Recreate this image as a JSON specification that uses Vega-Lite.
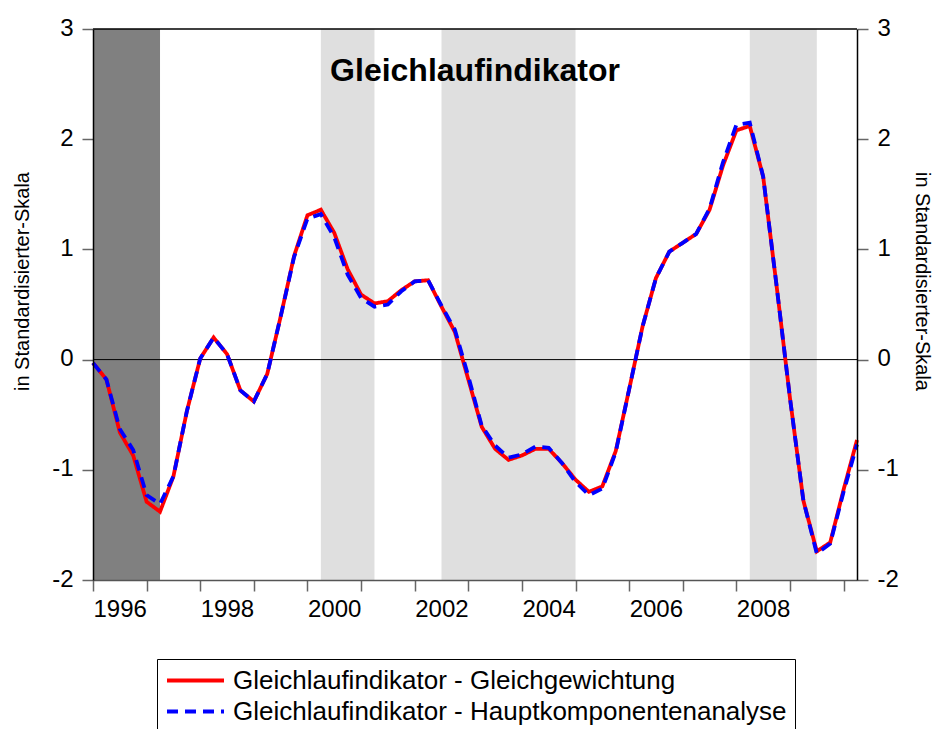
{
  "$schema": "https://vega.github.io/schema/vega-lite/v6.json",
  "width": 764,
  "height": 551,
  "autosize": {"type": "none"},
  "padding": {"left": 93, "top": 29, "right": 77, "bottom": 149},
  "background": "white",
  "config": {"view": {"stroke": null}, "font": "Liberation Sans"},
  "title": {
    "text": "Gleichlaufindikator",
    "font": "Liberation Sans",
    "fontSize": 32,
    "fontWeight": "bold",
    "color": "black",
    "anchor": "middle",
    "frame": "group",
    "baseline": "alphabetic",
    "offset": -97
  },
  "layer": [
    {
      "data": {"values": [{"start": 1996, "end": 1997.25}]},
      "mark": {"type": "rect", "color": "#808080"},
      "encoding": {
        "x": {
          "field": "start", "type": "quantitative",
          "scale": {"domain": [1996, 2010.25], "nice": false, "zero": false},
          "axis": {
            "title": null, "grid": false, "zindex": 1,
            "values": [1996,1997,1998,1999,2000,2001,2002,2003,2004,2005,2006,2007,2008,2009,2010],
            "labelExpr": "(datum.value % 2 === 0 && datum.value < 2010) ? ('' + datum.value) : ''",
            "labelAlign": "left", "labelDx": -6, "labelFlush": false, "labelOverlap": false,
            "labelFont": "Liberation Sans", "labelFontSize": 24, "labelColor": "black",
            "labelPadding": 6, "tickSize": 11, "tickColor": "#666666", "tickWidth": 1.5,
            "domainColor": "#555555", "domainWidth": 1.5
          }
        },
        "x2": {"field": "end"}
      }
    },
    {
      "data": {"values": [
        {"start": 2000.25, "end": 2001.25},
        {"start": 2002.5, "end": 2005.0},
        {"start": 2008.25, "end": 2009.5}
      ]},
      "mark": {"type": "rect", "color": "#dfdfdf"},
      "encoding": {
        "x": {"field": "start", "type": "quantitative", "title": null},
        "x2": {"field": "end"}
      }
    },
    {
      "data": {"values": [{"level": 0}]},
      "mark": {"type": "rule", "color": "black", "strokeWidth": 1},
      "encoding": {"y": {"field": "level", "type": "quantitative", "axis": null}}
    },
    {
      "data": {"values": [
        {"t":1996.00,"v":-0.03,"s":"Gleichlaufindikator - Gleichgewichtung"},
        {"t":1996.25,"v":-0.18,"s":"Gleichlaufindikator - Gleichgewichtung"},
        {"t":1996.50,"v":-0.66,"s":"Gleichlaufindikator - Gleichgewichtung"},
        {"t":1996.75,"v":-0.87,"s":"Gleichlaufindikator - Gleichgewichtung"},
        {"t":1997.00,"v":-1.29,"s":"Gleichlaufindikator - Gleichgewichtung"},
        {"t":1997.25,"v":-1.38,"s":"Gleichlaufindikator - Gleichgewichtung"},
        {"t":1997.50,"v":-1.06,"s":"Gleichlaufindikator - Gleichgewichtung"},
        {"t":1997.75,"v":-0.47,"s":"Gleichlaufindikator - Gleichgewichtung"},
        {"t":1998.00,"v":0.01,"s":"Gleichlaufindikator - Gleichgewichtung"},
        {"t":1998.25,"v":0.20,"s":"Gleichlaufindikator - Gleichgewichtung"},
        {"t":1998.50,"v":0.05,"s":"Gleichlaufindikator - Gleichgewichtung"},
        {"t":1998.75,"v":-0.28,"s":"Gleichlaufindikator - Gleichgewichtung"},
        {"t":1999.00,"v":-0.38,"s":"Gleichlaufindikator - Gleichgewichtung"},
        {"t":1999.25,"v":-0.13,"s":"Gleichlaufindikator - Gleichgewichtung"},
        {"t":1999.50,"v":0.39,"s":"Gleichlaufindikator - Gleichgewichtung"},
        {"t":1999.75,"v":0.94,"s":"Gleichlaufindikator - Gleichgewichtung"},
        {"t":2000.00,"v":1.31,"s":"Gleichlaufindikator - Gleichgewichtung"},
        {"t":2000.25,"v":1.36,"s":"Gleichlaufindikator - Gleichgewichtung"},
        {"t":2000.50,"v":1.15,"s":"Gleichlaufindikator - Gleichgewichtung"},
        {"t":2000.75,"v":0.82,"s":"Gleichlaufindikator - Gleichgewichtung"},
        {"t":2001.00,"v":0.59,"s":"Gleichlaufindikator - Gleichgewichtung"},
        {"t":2001.25,"v":0.51,"s":"Gleichlaufindikator - Gleichgewichtung"},
        {"t":2001.50,"v":0.53,"s":"Gleichlaufindikator - Gleichgewichtung"},
        {"t":2001.75,"v":0.63,"s":"Gleichlaufindikator - Gleichgewichtung"},
        {"t":2002.00,"v":0.71,"s":"Gleichlaufindikator - Gleichgewichtung"},
        {"t":2002.25,"v":0.72,"s":"Gleichlaufindikator - Gleichgewichtung"},
        {"t":2002.50,"v":0.48,"s":"Gleichlaufindikator - Gleichgewichtung"},
        {"t":2002.75,"v":0.25,"s":"Gleichlaufindikator - Gleichgewichtung"},
        {"t":2003.00,"v":-0.18,"s":"Gleichlaufindikator - Gleichgewichtung"},
        {"t":2003.25,"v":-0.61,"s":"Gleichlaufindikator - Gleichgewichtung"},
        {"t":2003.50,"v":-0.81,"s":"Gleichlaufindikator - Gleichgewichtung"},
        {"t":2003.75,"v":-0.91,"s":"Gleichlaufindikator - Gleichgewichtung"},
        {"t":2004.00,"v":-0.87,"s":"Gleichlaufindikator - Gleichgewichtung"},
        {"t":2004.25,"v":-0.81,"s":"Gleichlaufindikator - Gleichgewichtung"},
        {"t":2004.50,"v":-0.81,"s":"Gleichlaufindikator - Gleichgewichtung"},
        {"t":2004.75,"v":-0.94,"s":"Gleichlaufindikator - Gleichgewichtung"},
        {"t":2005.00,"v":-1.09,"s":"Gleichlaufindikator - Gleichgewichtung"},
        {"t":2005.25,"v":-1.20,"s":"Gleichlaufindikator - Gleichgewichtung"},
        {"t":2005.50,"v":-1.15,"s":"Gleichlaufindikator - Gleichgewichtung"},
        {"t":2005.75,"v":-0.83,"s":"Gleichlaufindikator - Gleichgewichtung"},
        {"t":2006.00,"v":-0.27,"s":"Gleichlaufindikator - Gleichgewichtung"},
        {"t":2006.25,"v":0.30,"s":"Gleichlaufindikator - Gleichgewichtung"},
        {"t":2006.50,"v":0.74,"s":"Gleichlaufindikator - Gleichgewichtung"},
        {"t":2006.75,"v":0.98,"s":"Gleichlaufindikator - Gleichgewichtung"},
        {"t":2007.00,"v":1.06,"s":"Gleichlaufindikator - Gleichgewichtung"},
        {"t":2007.25,"v":1.14,"s":"Gleichlaufindikator - Gleichgewichtung"},
        {"t":2007.50,"v":1.36,"s":"Gleichlaufindikator - Gleichgewichtung"},
        {"t":2007.75,"v":1.76,"s":"Gleichlaufindikator - Gleichgewichtung"},
        {"t":2008.00,"v":2.08,"s":"Gleichlaufindikator - Gleichgewichtung"},
        {"t":2008.25,"v":2.12,"s":"Gleichlaufindikator - Gleichgewichtung"},
        {"t":2008.50,"v":1.66,"s":"Gleichlaufindikator - Gleichgewichtung"},
        {"t":2008.75,"v":0.67,"s":"Gleichlaufindikator - Gleichgewichtung"},
        {"t":2009.00,"v":-0.35,"s":"Gleichlaufindikator - Gleichgewichtung"},
        {"t":2009.25,"v":-1.28,"s":"Gleichlaufindikator - Gleichgewichtung"},
        {"t":2009.50,"v":-1.74,"s":"Gleichlaufindikator - Gleichgewichtung"},
        {"t":2009.75,"v":-1.66,"s":"Gleichlaufindikator - Gleichgewichtung"},
        {"t":2010.00,"v":-1.18,"s":"Gleichlaufindikator - Gleichgewichtung"},
        {"t":2010.25,"v":-0.73,"s":"Gleichlaufindikator - Gleichgewichtung"},
        {"t":1996.00,"v":-0.03,"s":"Gleichlaufindikator - Hauptkomponentenanalyse"},
        {"t":1996.25,"v":-0.18,"s":"Gleichlaufindikator - Hauptkomponentenanalyse"},
        {"t":1996.50,"v":-0.63,"s":"Gleichlaufindikator - Hauptkomponentenanalyse"},
        {"t":1996.75,"v":-0.82,"s":"Gleichlaufindikator - Hauptkomponentenanalyse"},
        {"t":1997.00,"v":-1.23,"s":"Gleichlaufindikator - Hauptkomponentenanalyse"},
        {"t":1997.25,"v":-1.31,"s":"Gleichlaufindikator - Hauptkomponentenanalyse"},
        {"t":1997.50,"v":-1.06,"s":"Gleichlaufindikator - Hauptkomponentenanalyse"},
        {"t":1997.75,"v":-0.47,"s":"Gleichlaufindikator - Hauptkomponentenanalyse"},
        {"t":1998.00,"v":0.01,"s":"Gleichlaufindikator - Hauptkomponentenanalyse"},
        {"t":1998.25,"v":0.20,"s":"Gleichlaufindikator - Hauptkomponentenanalyse"},
        {"t":1998.50,"v":0.05,"s":"Gleichlaufindikator - Hauptkomponentenanalyse"},
        {"t":1998.75,"v":-0.28,"s":"Gleichlaufindikator - Hauptkomponentenanalyse"},
        {"t":1999.00,"v":-0.38,"s":"Gleichlaufindikator - Hauptkomponentenanalyse"},
        {"t":1999.25,"v":-0.13,"s":"Gleichlaufindikator - Hauptkomponentenanalyse"},
        {"t":1999.50,"v":0.39,"s":"Gleichlaufindikator - Hauptkomponentenanalyse"},
        {"t":1999.75,"v":0.93,"s":"Gleichlaufindikator - Hauptkomponentenanalyse"},
        {"t":2000.00,"v":1.28,"s":"Gleichlaufindikator - Hauptkomponentenanalyse"},
        {"t":2000.25,"v":1.32,"s":"Gleichlaufindikator - Hauptkomponentenanalyse"},
        {"t":2000.50,"v":1.11,"s":"Gleichlaufindikator - Hauptkomponentenanalyse"},
        {"t":2000.75,"v":0.77,"s":"Gleichlaufindikator - Hauptkomponentenanalyse"},
        {"t":2001.00,"v":0.56,"s":"Gleichlaufindikator - Hauptkomponentenanalyse"},
        {"t":2001.25,"v":0.48,"s":"Gleichlaufindikator - Hauptkomponentenanalyse"},
        {"t":2001.50,"v":0.50,"s":"Gleichlaufindikator - Hauptkomponentenanalyse"},
        {"t":2001.75,"v":0.62,"s":"Gleichlaufindikator - Hauptkomponentenanalyse"},
        {"t":2002.00,"v":0.71,"s":"Gleichlaufindikator - Hauptkomponentenanalyse"},
        {"t":2002.25,"v":0.72,"s":"Gleichlaufindikator - Hauptkomponentenanalyse"},
        {"t":2002.50,"v":0.49,"s":"Gleichlaufindikator - Hauptkomponentenanalyse"},
        {"t":2002.75,"v":0.27,"s":"Gleichlaufindikator - Hauptkomponentenanalyse"},
        {"t":2003.00,"v":-0.15,"s":"Gleichlaufindikator - Hauptkomponentenanalyse"},
        {"t":2003.25,"v":-0.60,"s":"Gleichlaufindikator - Hauptkomponentenanalyse"},
        {"t":2003.50,"v":-0.78,"s":"Gleichlaufindikator - Hauptkomponentenanalyse"},
        {"t":2003.75,"v":-0.89,"s":"Gleichlaufindikator - Hauptkomponentenanalyse"},
        {"t":2004.00,"v":-0.86,"s":"Gleichlaufindikator - Hauptkomponentenanalyse"},
        {"t":2004.25,"v":-0.79,"s":"Gleichlaufindikator - Hauptkomponentenanalyse"},
        {"t":2004.50,"v":-0.80,"s":"Gleichlaufindikator - Hauptkomponentenanalyse"},
        {"t":2004.75,"v":-0.94,"s":"Gleichlaufindikator - Hauptkomponentenanalyse"},
        {"t":2005.00,"v":-1.11,"s":"Gleichlaufindikator - Hauptkomponentenanalyse"},
        {"t":2005.25,"v":-1.23,"s":"Gleichlaufindikator - Hauptkomponentenanalyse"},
        {"t":2005.50,"v":-1.17,"s":"Gleichlaufindikator - Hauptkomponentenanalyse"},
        {"t":2005.75,"v":-0.84,"s":"Gleichlaufindikator - Hauptkomponentenanalyse"},
        {"t":2006.00,"v":-0.27,"s":"Gleichlaufindikator - Hauptkomponentenanalyse"},
        {"t":2006.25,"v":0.30,"s":"Gleichlaufindikator - Hauptkomponentenanalyse"},
        {"t":2006.50,"v":0.74,"s":"Gleichlaufindikator - Hauptkomponentenanalyse"},
        {"t":2006.75,"v":0.98,"s":"Gleichlaufindikator - Hauptkomponentenanalyse"},
        {"t":2007.00,"v":1.06,"s":"Gleichlaufindikator - Hauptkomponentenanalyse"},
        {"t":2007.25,"v":1.14,"s":"Gleichlaufindikator - Hauptkomponentenanalyse"},
        {"t":2007.50,"v":1.37,"s":"Gleichlaufindikator - Hauptkomponentenanalyse"},
        {"t":2007.75,"v":1.79,"s":"Gleichlaufindikator - Hauptkomponentenanalyse"},
        {"t":2008.00,"v":2.13,"s":"Gleichlaufindikator - Hauptkomponentenanalyse"},
        {"t":2008.25,"v":2.15,"s":"Gleichlaufindikator - Hauptkomponentenanalyse"},
        {"t":2008.50,"v":1.66,"s":"Gleichlaufindikator - Hauptkomponentenanalyse"},
        {"t":2008.75,"v":0.67,"s":"Gleichlaufindikator - Hauptkomponentenanalyse"},
        {"t":2009.00,"v":-0.35,"s":"Gleichlaufindikator - Hauptkomponentenanalyse"},
        {"t":2009.25,"v":-1.28,"s":"Gleichlaufindikator - Hauptkomponentenanalyse"},
        {"t":2009.50,"v":-1.76,"s":"Gleichlaufindikator - Hauptkomponentenanalyse"},
        {"t":2009.75,"v":-1.67,"s":"Gleichlaufindikator - Hauptkomponentenanalyse"},
        {"t":2010.00,"v":-1.20,"s":"Gleichlaufindikator - Hauptkomponentenanalyse"},
        {"t":2010.25,"v":-0.77,"s":"Gleichlaufindikator - Hauptkomponentenanalyse"}
      ]},
      "mark": {"type": "line", "strokeWidth": 3.8, "strokeCap": "butt", "strokeJoin": "miter"},
      "encoding": {
        "x": {"field": "t", "type": "quantitative", "title": null},
        "y": {
          "field": "v", "type": "quantitative",
          "scale": {"domain": [-2, 3], "nice": false, "zero": false},
          "axis": {
            "orient": "left", "title": "in Standardisierter-Skala", "grid": false, "zindex": 1,
            "values": [-2, -1, 0, 1, 2, 3],
            "labelExpr": "datum.value < 0 ? ('-' + abs(datum.value)) : ('' + datum.value)",
            "labelFont": "Liberation Sans", "labelFontSize": 24, "labelColor": "black",
            "labelPadding": 9, "labelOffset": -1,
            "tickSize": 11, "tickColor": "#666666", "tickWidth": 1.5,
            "domainColor": "black", "domainWidth": 1.5,
            "titleFont": "Liberation Sans", "titleFontSize": 20, "titleFontWeight": "normal", "titleColor": "black",
            "titleAngle": -90, "titleX": -71, "titleY": 252, "titleBaseline": "middle", "titleAlign": "center"
          }
        },
        "color": {
          "field": "s", "type": "nominal",
          "scale": {
            "domain": ["Gleichlaufindikator - Gleichgewichtung", "Gleichlaufindikator - Hauptkomponentenanalyse"],
            "range": ["#ff0000", "#0000ff"]
          },
          "legend": {
            "orient": "none", "legendX": 64, "legendY": 630, "title": null,
            "symbolType": "stroke", "symbolSize": 3249, "symbolStrokeWidth": 4,
            "labelFont": "Liberation Sans", "labelFontSize": 26, "labelColor": "black", "labelLimit": 0,
            "labelOffset": 7, "clipHeight": 27, "rowPadding": 4, "padding": 8,
            "strokeColor": "black", "fillColor": "white", "cornerRadius": 0
          }
        },
        "strokeDash": {
          "field": "s", "type": "nominal",
          "scale": {
            "domain": ["Gleichlaufindikator - Gleichgewichtung", "Gleichlaufindikator - Hauptkomponentenanalyse"],
            "range": [[1, 0], [11, 7]]
          },
          "legend": {
            "orient": "none", "legendX": 64, "legendY": 630, "title": null,
            "symbolType": "stroke", "symbolSize": 3249, "symbolStrokeWidth": 4,
            "labelFont": "Liberation Sans", "labelFontSize": 26, "labelColor": "black", "labelLimit": 0,
            "labelOffset": 7, "clipHeight": 27, "rowPadding": 4, "padding": 8,
            "strokeColor": "black", "fillColor": "white", "cornerRadius": 0
          }
        }
      }
    },
    {
      "data": {"values": [{"level": 3}]},
      "mark": {"type": "rule", "color": "black", "strokeWidth": 1.5},
      "encoding": {
        "y": {
          "field": "level", "type": "quantitative",
          "axis": {
            "orient": "right", "title": "in Standardisierter-Skala", "grid": false, "zindex": 1,
            "values": [-2, -1, 0, 1, 2, 3],
            "labelExpr": "datum.value < 0 ? ('-' + abs(datum.value)) : ('' + datum.value)",
            "labelFont": "Liberation Sans", "labelFontSize": 24, "labelColor": "black",
            "labelPadding": 9, "labelOffset": -1,
            "tickSize": 11, "tickColor": "#666666", "tickWidth": 1.5,
            "domainColor": "black", "domainWidth": 1.5,
            "titleFont": "Liberation Sans", "titleFontSize": 20, "titleFontWeight": "normal", "titleColor": "black",
            "titleAngle": 90, "titleX": 64, "titleY": 252, "titleBaseline": "middle", "titleAlign": "center"
          }
        }
      }
    }
  ],
  "resolve": {"axis": {"y": "independent"}}
}
